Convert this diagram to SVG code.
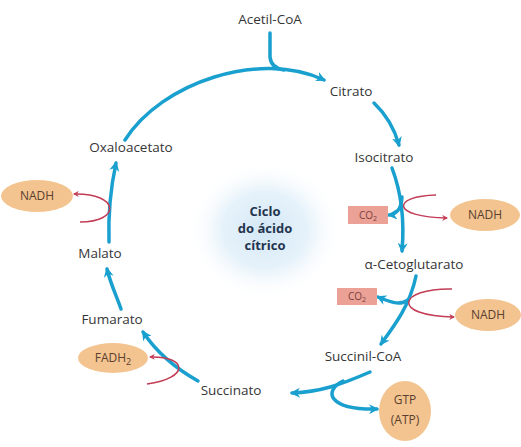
<svg xmlns="http://www.w3.org/2000/svg" width="521" height="447" viewBox="0 0 521 447">
<style>
.t{font-family:"Open Sans","Liberation Sans",sans-serif;font-size:13.5px;fill:#363636;text-anchor:middle}
.c{font-family:"Open Sans","Liberation Sans",sans-serif;font-size:13px;font-weight:bold;fill:#24344e;text-anchor:middle}
.s{font-family:"Open Sans","Liberation Sans",sans-serif;font-size:12px;fill:#5a4030;text-anchor:middle}
.co{font-family:"Open Sans","Liberation Sans",sans-serif;font-size:10px;fill:#7a4040;text-anchor:middle}
.b{fill:none;stroke:#1aa0cf;stroke-width:3.5;stroke-linecap:round}
.r{fill:none;stroke:#c23d55;stroke-width:1.5}
.e{fill:#f3c48f}
.box{fill:#eba195}
</style>
<defs>
<radialGradient id="glow" cx="0.5" cy="0.5" r="0.5">
<stop offset="0" stop-color="#d4e8f6"/>
<stop offset="0.55" stop-color="#e6f2fa"/>
<stop offset="1" stop-color="#ffffff" stop-opacity="0"/>
</radialGradient>
<marker id="ab" viewBox="0 0 10 10" refX="8" refY="5" markerWidth="10" markerHeight="10" markerUnits="userSpaceOnUse" orient="auto">
<path d="M0,0 L10,5 L0,10 L3,5 z" fill="#1aa0cf"/>
</marker>
<marker id="ar" viewBox="0 0 10 10" refX="8" refY="5" markerWidth="6" markerHeight="6" markerUnits="userSpaceOnUse" orient="auto">
<path d="M0,0 L10,5 L0,10 L3,5 z" fill="#c23d55"/>
</marker>
</defs>
<rect width="521" height="447" fill="#ffffff"/>
<ellipse cx="265" cy="230" rx="78" ry="70" fill="url(#glow)"/>

<g id="connectors">
<path class="b" d="M125 140 C162 82 260 50 324 80" marker-end="url(#ab)"/>
<path class="b" d="M270 33 L270 57 Q271 68 284 70"/>
<path class="b" d="M374 103 Q392 120 399 145" marker-end="url(#ab)"/>
<path class="b" d="M392 168 Q406 205 402 251" marker-end="url(#ab)"/>
<path class="b" d="M402 197 Q401 214 389 215" marker-end="url(#ab)"/>
<path class="r" d="M436 195 C392 196 390 217 447 218" marker-end="url(#ar)"/>
<path class="b" d="M416 276 C410 305 395 325 381 344" marker-end="url(#ab)"/>
<path class="b" d="M408 300 C400 306 390 302 378 297" marker-end="url(#ab)"/>
<path class="r" d="M452 289 C398 288 390 316 454 317" marker-end="url(#ar)"/>
<path class="b" d="M370 372 C340 385 320 392 292 393" marker-end="url(#ab)"/>
<path class="b" d="M343 381 C323 391 328 410 377 409" marker-end="url(#ab)"/>
<path class="b" d="M198 381 C175 368 155 350 143 332" marker-end="url(#ab)"/>
<path class="r" d="M147 384 C190 378 188 356 150 357" marker-end="url(#ar)"/>
<path class="b" d="M121 309 C116 295 110 282 107 269" marker-end="url(#ab)"/>
<path class="b" d="M109 242 C108 212 111 186 116 163" marker-end="url(#ab)"/>
<path class="r" d="M80 222 C121 222 120 193 74 194" marker-end="url(#ar)"/>
</g>

<g id="acetilcoa"><text class="t" x="270" y="24">Acetil-CoA</text></g>
<g id="citrato"><text class="t" x="351" y="96">Citrato</text></g>
<g id="isocitrato"><text class="t" x="384" y="162">Isocitrato</text></g>
<g id="co2a"><rect class="box" x="348" y="206" width="40" height="18"/><text class="co" x="368" y="219">CO<tspan font-size="7" dy="2">2</tspan></text></g>
<g id="nadh1"><ellipse class="e" cx="485" cy="215" rx="35" ry="16"/><text class="s" x="485" y="219">NADH</text></g>
<g id="acetoglutarato"><text class="t" x="414" y="269">α-Cetoglutarato</text></g>
<g id="co2b"><rect class="box" x="337" y="288" width="40" height="17"/><text class="co" x="357" y="300">CO<tspan font-size="7" dy="2">2</tspan></text></g>
<g id="nadh2"><ellipse class="e" cx="488" cy="315" rx="33" ry="16"/><text class="s" x="488" y="319">NADH</text></g>
<g id="succinilcoa"><text class="t" x="363" y="361">Succinil-CoA</text></g>
<g id="gtp"><ellipse class="e" cx="405" cy="411" rx="26" ry="30"/><text class="s" x="405" y="404">GTP</text><text class="s" x="405" y="424">(ATP)</text></g>
<g id="succinato"><text class="t" x="231" y="395">Succinato</text></g>
<g id="fadh2"><ellipse class="e" cx="113" cy="358" rx="35" ry="15"/><text class="s" x="113" y="362">FADH<tspan font-size="9" dy="3">2</tspan></text></g>
<g id="fumarato"><text class="t" x="112" y="324">Fumarato</text></g>
<g id="malato"><text class="t" x="100" y="258">Malato</text></g>
<g id="nadh3"><ellipse class="e" cx="37" cy="196" rx="36" ry="16"/><text class="s" x="37" y="200">NADH</text></g>
<g id="oxaloacetato"><text class="t" x="131" y="152">Oxaloacetato</text></g>
<g id="centro"><text class="c" x="265" y="216">Ciclo</text><text class="c" x="265" y="233">do ácido</text><text class="c" x="265" y="250">cítrico</text></g>
</svg>
